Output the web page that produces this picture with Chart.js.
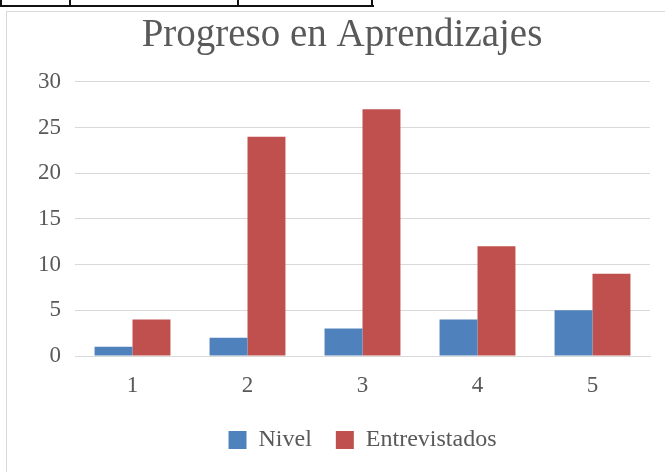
<!DOCTYPE html>
<html>
<head>
<meta charset="utf-8">
<script src="https://cdn.jsdelivr.net/npm/chart.js@4/dist/chart.umd.min.js"></script>
<style>
    html, body { margin: 0; padding: 0; background: #fff; }
    #wrap { position: relative; width: 665px; height: 472px; overflow: hidden; }
    #chart { position: absolute; left: 0; top: 0; }
    .ln { position: absolute; }
</style>
</head>
<body>
<div id="wrap">
    <canvas id="chart" width="665" height="472"></canvas>
    <!-- table edge above the chart -->
    <div class="ln" style="left:0;top:5px;width:374px;height:2px;background:#111"></div>
    <div class="ln" style="left:0;top:0;width:2px;height:7px;background:#111"></div>
    <div class="ln" style="left:69px;top:0;width:2px;height:7px;background:#111"></div>
    <div class="ln" style="left:237px;top:0;width:2px;height:7px;background:#111"></div>
    <div class="ln" style="left:371px;top:0;width:2px;height:7px;background:#111"></div>
    <!-- chart frame -->
    <div class="ln" style="left:6px;top:11px;width:659px;height:1px;background:#d9d9d9"></div>
    <div class="ln" style="left:6px;top:11px;width:1px;height:461px;background:#d9d9d9"></div>
</div>
<script>
const labels = ['1', '2', '3', '4', '5'];
const nivel = [1, 2, 3, 4, 5];
const entrevistados = [4, 24, 27, 12, 9];

const serif = "'Liberation Serif', 'DejaVu Serif', serif";

const data = {
    labels: labels,
    datasets: [{
        label: 'Nivel',
        backgroundColor: '#4F81BD',
        data: nivel,
    }, {
        label: 'Entrevistados',
        backgroundColor: '#C0504D',
        data: entrevistados,
    }]
};

const config = {
    type: 'bar',
    data: data,
    options: {
        responsive: false,
        animation: false,
        layout: { padding: { left: 34, right: 15, top: 0, bottom: 10 } },
        datasets: {
            bar: { categoryPercentage: 0.66, barPercentage: 1 }
        },
        plugins: {
            title: {
                display: true,
                text: 'Progreso en Aprendizajes',
                color: '#595959',
                font: { family: serif, size: 39, weight: 'normal' },
                padding: { top: 12, bottom: 23 }
            },
            legend: {
                position: 'bottom',
                fullSize: false,
                labels: {
                    color: '#595959',
                    font: { family: serif, size: 24 },
                    boxWidth: 18,
                    boxHeight: 18,
                    padding: 24
                }
            },
            tooltip: { enabled: false }
        },
        scales: {
            x: {
                grid: { display: false },
                border: { color: '#d9d9d9', width: 1 },
                ticks: { color: '#595959', font: { family: serif, size: 23 }, padding: 8 },
                afterFit: (s) => { s.height = 48; }
            },
            y: {
                min: 0,
                max: 30,
                ticks: { stepSize: 5, color: '#595959', font: { family: serif, size: 23 }, padding: 14 },
                grid: { color: '#d9d9d9', drawTicks: false },
                border: { display: false },
                afterFit: (s) => { s.width = 41; }
            }
        }
    }
};

new Chart(
    document.getElementById('chart'),
    config
);
</script>
</body>
</html>
